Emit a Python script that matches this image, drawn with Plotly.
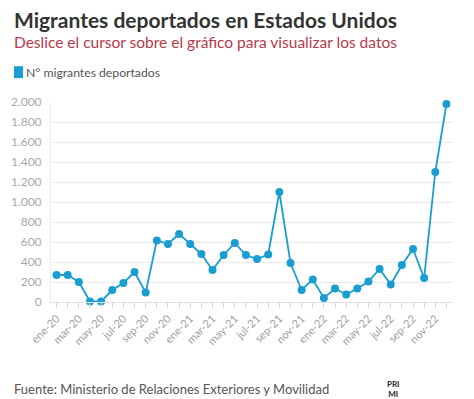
import plotly.graph_objects as go

months = ["ene", "feb", "mar", "abr", "may", "jun", "jul", "ago", "sep", "oct", "nov", "dic"]
categories = [f"{m}-{y}" for y in ["20", "21", "22"] for m in months]
values = [270, 270, 200, 5, 5, 120, 190, 300, 95, 615, 580, 680,
          580, 480, 320, 470, 590, 470, 430, 475, 1100, 390, 120, 225,
          40, 135, 75, 135, 205, 330, 175, 370, 530, 240, 1300, 1980]
tick_labels = categories[::2]
series_name = "N° migrantes deportados"

BLUE = "#1a9ed2"
FONT = "Lato"

fig = go.Figure()
fig.add_trace(go.Scatter(
    x=categories, y=values, mode="lines+markers", name=series_name,
    line=dict(color=BLUE, width=1.8),
    marker=dict(color=BLUE, size=8),
    cliponaxis=False, showlegend=False,
))

fig.update_layout(
    width=474, height=399,
    margin=dict(l=51, r=22, t=102, b=97),
    paper_bgcolor="white", plot_bgcolor="white",
    separators=",.",
    font=dict(family=FONT, color="#999"),
    xaxis=dict(
        type="category", categoryorder="array", categoryarray=categories,
        range=[-0.5, len(categories) - 0.5],
        tickmode="array", tickvals=categories, ticktext=[c if c in tick_labels else "" for c in categories],
        tickangle=-45, tickfont=dict(size=11, color="#a0a0a0", family=FONT),
        ticks="outside", ticklen=5, tickcolor="#d8d8d8",
        showline=True, linecolor="#e0e0e0", showgrid=False, zeroline=False,
    ),
    yaxis=dict(
        range=[0, 2000], dtick=200, tickformat=",d",
        tickfont=dict(size=12, color="#a8a8a8", family=FONT),
        gridcolor="#ebebeb", gridwidth=1, zeroline=False,
        showline=True, linecolor="#ebebeb", ticks="", ticklabelstandoff=6,
    ),
)

fig.add_annotation(xref="paper", yref="paper", x=-39/401, y=1 + (102 - 19) / 201,
                   xanchor="left", yanchor="middle", showarrow=False,
                   text="<b>Migrantes deportados en Estados Unidos</b>",
                   font=dict(size=21, color="#333333", family=FONT))
fig.add_annotation(xref="paper", yref="paper", x=-39/401, y=1 + (102 - 42) / 201,
                   xanchor="left", yanchor="middle", showarrow=False,
                   text="Deslice el cursor sobre el gráfico para visualizar los datos",
                   font=dict(size=15.5, color="#b5394a", family=FONT))
fig.add_shape(type="rect", xref="paper", yref="paper",
              x0=-37/401, x1=-28/401, y0=1 + (102 - 78) / 201, y1=1 + (102 - 66) / 201,
              fillcolor=BLUE, line=dict(width=0))
fig.add_annotation(xref="paper", yref="paper", x=-27/401, y=1 + (102 - 72) / 201,
                   xanchor="left", yanchor="middle", showarrow=False,
                   text=series_name, font=dict(size=12.2, color="#555555", family=FONT))
fig.add_annotation(xref="paper", yref="paper", x=-39/401, y=-(389 - 302) / 201,
                   xanchor="left", yanchor="middle", showarrow=False,
                   text="Fuente: Ministerio de Relaciones Exteriores y Movilidad",
                   font=dict(size=13, color="#555555", family=FONT))
fig.add_annotation(xref="paper", yref="paper", x=(393 - 51) / 401, y=-(389 - 302) / 201,
                   xanchor="center", yanchor="middle", showarrow=False,
                   text="<b>PRI<br>MI</b>",
                   font=dict(size=8, color="#222222", family=FONT))

fig.write_html("out.html", config={"displayModeBar": False},
               post_script="document.body.style.margin='0px';")
